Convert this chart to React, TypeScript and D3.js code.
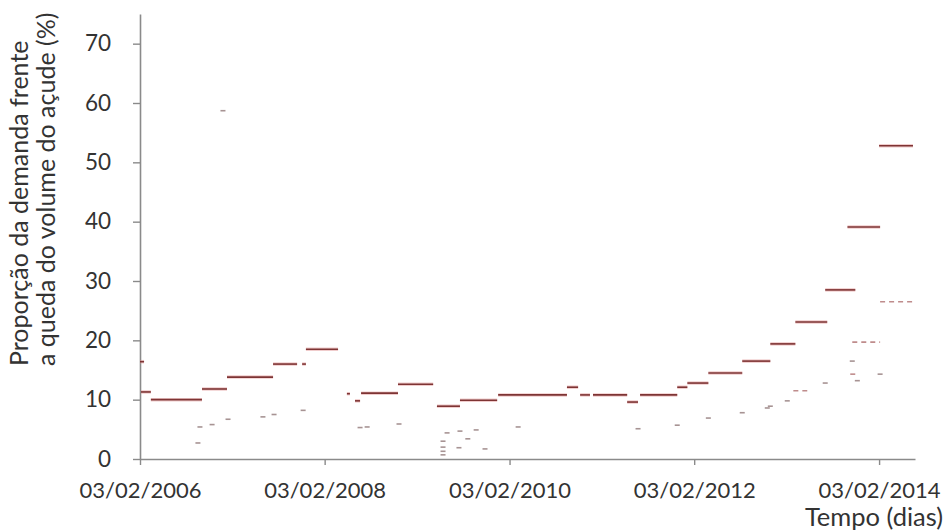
import { useEffect, useRef } from "react";
import * as d3 from "d3";

// main runs of the ratio (start date, end date, value in %)
const segStart = [
  "2006-02-03", "2006-02-07", "2006-03-18", "2006-10-06", "2007-01-13", "2007-07-14",
  "2007-11-06", "2007-11-21", "2008-05-01", "2008-06-02", "2008-06-26", "2008-11-19",
  "2009-04-22", "2009-07-22", "2009-12-20", "2010-09-18", "2010-11-09", "2010-12-30",
  "2011-05-14", "2011-07-04", "2011-11-28", "2012-01-07", "2012-03-30", "2012-08-11",
  "2012-11-30", "2013-03-09", "2013-07-05", "2013-10-01", "2014-02-03",
];
const segEnd = [
  "2006-02-19", "2006-03-18", "2006-10-06", "2007-01-13", "2007-07-14", "2007-10-17",
  "2007-11-21", "2008-03-27", "2008-05-13", "2008-06-22", "2008-11-19", "2009-04-07",
  "2009-07-22", "2009-12-16", "2010-09-18", "2010-11-01", "2010-12-18", "2011-05-14",
  "2011-06-26", "2011-11-28", "2012-01-07", "2012-03-30", "2012-08-11", "2012-11-30",
  "2013-03-09", "2013-07-13", "2013-11-01", "2014-02-07", "2014-06-17",
];
const segValue = [
  16.4, 11.3, 10.0, 11.8, 13.8, 16.0,
  16.0, 18.5, 11.0, 9.8, 11.1, 12.6,
  8.9, 9.9, 10.8, 12.1, 10.8, 10.8,
  9.6, 10.8, 12.1, 12.8, 14.5, 16.5,
  19.4, 23.1, 28.5, 39.1, 52.8,
];

// fainter runs
const faintStart = ["2013-03-01", "2013-10-12", "2013-10-20", "2014-02-07"];
const faintEnd = ["2013-04-25", "2013-11-12", "2014-02-07", "2014-06-25"];
const faintValue = [11.5, 14.3, 19.7, 26.5];

// isolated points
const pointDates = [
  "2006-09-20", "2006-09-28", "2006-11-15", "2006-12-28", "2007-01-17", "2007-06-04",
  "2007-07-18", "2007-11-10", "2008-06-22", "2008-07-20", "2008-11-23", "2009-05-16",
  "2009-05-16", "2009-05-16", "2009-05-16", "2009-06-01", "2009-07-18", "2009-07-22",
  "2009-08-22", "2009-09-24", "2009-10-29", "2010-03-09", "2011-06-26", "2011-11-28",
  "2012-03-30", "2012-08-11", "2012-11-18", "2012-11-30", "2013-02-05", "2013-07-05",
  "2013-10-20", "2013-11-09", "2014-02-07",
];
const pointValues = [
  2.7, 5.4, 5.8, 58.7, 6.7, 7.1,
  7.5, 8.2, 5.3, 5.4, 5.9, 3.0,
  2.0, 1.3, 0.7, 4.4, 1.9, 4.7,
  3.4, 4.9, 1.7, 5.4, 5.1, 5.7,
  6.9, 7.8, 8.6, 8.9, 9.8, 12.8,
  16.5, 13.2, 14.3,
];

const xTickDates = ["2006-02-03", "2008-02-03", "2010-02-03", "2012-02-03", "2014-02-03"];
const yTicks = [0, 10, 20, 30, 40, 50, 60, 70];

export default function App() {
  const svgRef = useRef(null);

  useEffect(() => {
    const parseDate = d3.timeParse("%Y-%m-%d");
    const fmt = d3.timeFormat("%d/%m/%Y");
    const font = "Lato, 'Open Sans', sans-serif";
    const ink = "#333";

    const svg = d3.select(svgRef.current);
    svg.selectAll("*").remove();

    const x = d3.scaleTime()
      .domain([parseDate("2006-02-03"), parseDate("2014-06-25")])
      .range([140, 915]);
    const y = d3.scaleLinear().domain([0, 75]).range([459, 14]);

    // Y axis
    const yAxis = svg.append("g")
      .attr("transform", "translate(140,0)")
      .call(d3.axisLeft(y).tickValues(yTicks).tickSize(7).tickPadding(22).tickSizeOuter(0));
    yAxis.select(".domain").attr("stroke", "#8a8a8a").attr("stroke-width", 1.6);
    yAxis.selectAll(".tick line").attr("stroke", "#8a8a8a").attr("stroke-width", 1.4);
    yAxis.selectAll(".tick text")
      .attr("font-family", font).attr("font-size", 22.5).attr("fill", ink);

    // X axis
    const xAxis = svg.append("g")
      .attr("transform", "translate(0,459)")
      .call(d3.axisBottom(x).tickValues(xTickDates.map((d) => parseDate(d)))
        .tickFormat(fmt).tickSize(6).tickPadding(17).tickSizeOuter(0));
    xAxis.select(".domain").attr("stroke", "#8a8a8a").attr("stroke-width", 1.6);
    xAxis.selectAll(".tick line").attr("stroke", "#8a8a8a").attr("stroke-width", 1.4);
    xAxis.selectAll(".tick text")
      .attr("font-family", font).attr("font-size", 22).attr("fill", ink);

    // titles
    svg.append("text")
      .attr("x", 943).attr("y", 526)
      .attr("text-anchor", "end")
      .attr("font-family", font).attr("font-size", 25.5).attr("fill", ink)
      .text("Tempo (dias)");

    const yTitle = svg.append("g").attr("transform", "translate(0,366) rotate(-90)");
    yTitle.append("text")
      .attr("x", 0).attr("y", 28)
      .attr("font-family", font).attr("font-size", 25).attr("fill", ink)
      .text("Proporção da demanda frente");
    yTitle.append("text")
      .attr("x", 0).attr("y", 55)
      .attr("font-family", font).attr("font-size", 25).attr("fill", ink)
      .text("a queda do volume do açude (%)");

    const plot = svg.append("g");

    // faint runs
    const faint = faintValue.map((v, i) => ({ s: parseDate(faintStart[i]), e: parseDate(faintEnd[i]), v }));
    plot.selectAll(".faint")
      .data(faint).join("line")
      .attr("x1", (d) => x(d.s)).attr("x2", (d) => x(d.e))
      .attr("y1", (d) => y(d.v)).attr("y2", (d) => y(d.v))
      .attr("stroke", "#b07070").attr("stroke-width", 1.6)
      .attr("stroke-dasharray", "5 4").attr("opacity", 0.8);

    // isolated points
    const pts = pointValues.map((v, i) => ({ d: parseDate(pointDates[i]), v }));
    plot.selectAll(".pt")
      .data(pts).join("line")
      .attr("x1", (d) => x(d.d) - 2.5).attr("x2", (d) => x(d.d) + 2.5)
      .attr("y1", (d) => y(d.v)).attr("y2", (d) => y(d.v))
      .attr("stroke", "#8a7070").attr("stroke-width", 1.6).attr("opacity", 0.75);

    // main runs: pink halo + dark core
    const segs = segValue.map((v, i) => ({ s: parseDate(segStart[i]), e: parseDate(segEnd[i]), v }));
    plot.selectAll(".halo")
      .data(segs).join("line")
      .attr("x1", (d) => x(d.s)).attr("x2", (d) => x(d.e))
      .attr("y1", (d) => y(d.v)).attr("y2", (d) => y(d.v))
      .attr("stroke", "#e39a9a").attr("stroke-width", 3.5).attr("opacity", 0.5);
    plot.selectAll(".core")
      .data(segs).join("line")
      .attr("x1", (d) => x(d.s)).attr("x2", (d) => x(d.e))
      .attr("y1", (d) => y(d.v)).attr("y2", (d) => y(d.v))
      .attr("stroke", "#7e3434").attr("stroke-width", 1.6);
  }, []);

  return (
    <svg ref={svgRef} width={944} height={532}
      style={{ position: "absolute", left: 0, top: 0, background: "#fff" }} />
  );
}
